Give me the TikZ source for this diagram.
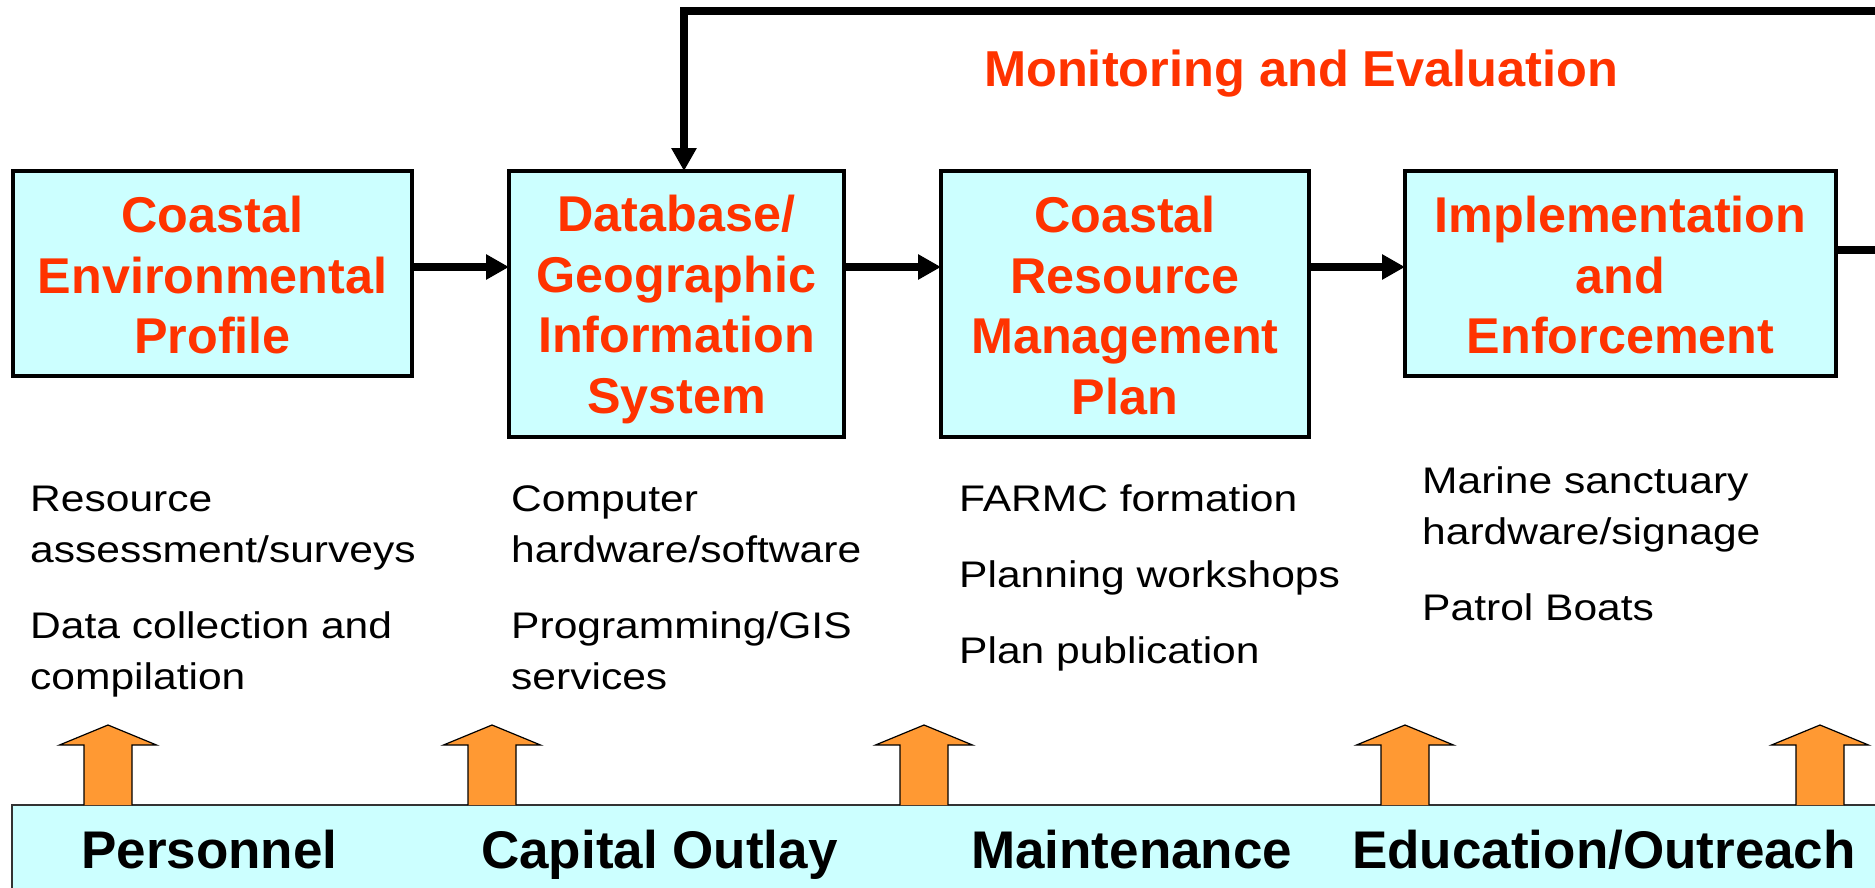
\documentclass[tikz,border=0pt]{standalone}
\usepackage{fontspec}
\setmainfont{Liberation Sans}
\newfontfamily\bodyfont[FakeStretch=1.15]{Liberation Sans}
\usetikzlibrary{arrows.meta}
\definecolor{boxfill}{HTML}{CCFFFF}
\definecolor{titlered}{HTML}{FF3300}
\definecolor{upfill}{HTML}{FF9933}
% struts that fix the height and depth of every text line
\newcommand\bxs{\rule[-8pt]{0pt}{55pt}}
\newcommand\lns{\rule[-10pt]{0pt}{47pt}}

\begin{document}
\begin{tikzpicture}[x=1pt,y=-1pt,
  stage/.style={draw=black, line width=3.5pt, fill=boxfill, inner sep=0pt,
    outer sep=0pt, align=center, text=titlered,
    font=\bfseries\fontsize{50.3}{60.5}\selectfont},
  flow/.style={line width=7.5pt, line join=miter,
    -{Triangle[length=23pt,width=24pt]}},
  note/.style={anchor=north west, inner sep=0pt, align=left,
    font=\bodyfont\fontsize{37}{51}\selectfont},
  budget/.style={anchor=base west, inner sep=0pt,
    font=\bfseries\fontsize{53}{60}\selectfont},
  uparr/.pic={\filldraw[fill=upfill, draw=black, line width=1.2pt]
    (-24,0) -- (-24,-60) -- (-48.5,-60) -- (0,-80) -- (48.5,-60)
    -- (24,-60) -- (24,0);}
]
\useasboundingbox (0,0) rectangle (1875,887);
\clip (0,0) rectangle (1875,887);

% process stages
\node[stage, minimum width=399pt, minimum height=205pt] (b1) at (212.5,273.5)
  {\bxs Coastal\\\bxs Environmental\\\bxs Profile};
\node[stage, minimum width=335pt, minimum height=266pt] (b2) at (676.5,304)
  {\bxs Database/\\\bxs Geographic\\\bxs Information\\\bxs System};
\node[stage, minimum width=368pt, minimum height=266pt] (b3) at (1125,304)
  {\bxs Coastal\\\bxs Resource\\\bxs Management\\\bxs Plan};
\node[stage, minimum width=431pt, minimum height=205pt] (b4) at (1620.5,273.5)
  {\bxs Implementation\\\bxs and\\\bxs Enforcement};

% helper coordinates for the connector levels
\coordinate (ya) at (0,267);
\coordinate (yb) at (0,250);
\coordinate (ytop) at (0,11);
\coordinate (xfb) at (684,0);
\coordinate (xloop) at (1905,0);

\draw[flow] (b1.east |- ya) -- (b2.west |- ya);
\draw[flow] (b2.east |- ya) -- (b3.west |- ya);
\draw[flow] (b3.east |- ya) -- (b4.west |- ya);

% feedback loop
\draw[flow] (b4.east |- yb) -- (xloop |- yb) -- (xloop |- ytop)
  -- (xfb |- ytop) -- (b2.north -| xfb);

\node[anchor=base west, inner sep=0pt, text=titlered,
  font=\bfseries\fontsize{50.5}{60}\selectfont] (me) at (984,86)
  {Monitoring and Evaluation};

% activities under each stage
\node[note] (n1) at (30,474)
  {\lns Resource\\\lns assessment/surveys\\[25pt]\lns Data collection and\\\lns compilation};
\node[note] (n2) at (511,474)
  {\lns Computer\\\lns hardware/software\\[25pt]\lns Programming/GIS\\\lns services};
\node[note] (n3) at (959,474)
  {\lns FARMC formation\\[25pt]\lns Planning workshops\\[25pt]\lns Plan publication};
\node[note] (n4) at (1422,456)
  {\lns Marine sanctuary\\\lns hardware/signage\\[25pt]\lns Patrol Boats};

% budget bar
\node[draw=black!80, line width=1.2pt, fill=boxfill, anchor=north west,
  inner sep=0pt, outer sep=0pt, minimum width=1900pt, minimum height=120pt]
  (bar) at (12,805) {};

\pic at (108,805) {uparr};
\pic at (492,805) {uparr};
\pic at (924,805) {uparr};
\pic at (1405,805) {uparr};
\pic at (1820,805) {uparr};

\node[budget] (p1) at (81,868) {Personnel};
\node[budget] (p2) at (481,868) {Capital Outlay};
\node[budget] (p3) at (971,868) {Maintenance};
\node[budget] (p4) at (1352,868) {Education/Outreach};
\end{tikzpicture}
\end{document}
